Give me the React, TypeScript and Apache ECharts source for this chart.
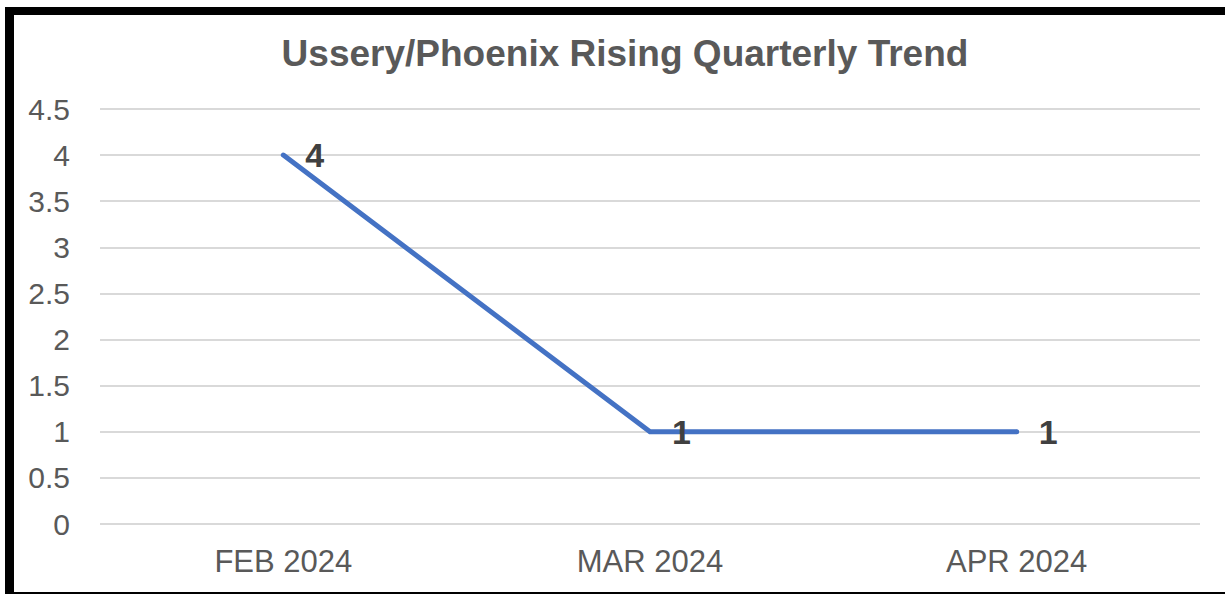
import React, { useEffect, useRef } from "react";
import * as echarts from "echarts";

const titleText = "Ussery/Phoenix Rising Quarterly Trend";
const categories = ["FEB 2024", "MAR 2024", "APR 2024"];
const values = [4, 1, 1];
const yMin = 0;
const yMax = 4.5;
const yInterval = 0.5;

export default function App() {
  const ref = useRef<HTMLDivElement>(null);
  useEffect(() => {
    const chart = echarts.init(ref.current!, undefined, { renderer: "svg" });
    const font = "Liberation Sans, Arial, sans-serif";
    chart.setOption({
      animation: false,
      backgroundColor: "#ffffff",
      textStyle: { fontFamily: font },
      title: {
        text: titleText,
        left: 620,
        top: 30,
        textAlign: "center",
        textStyle: { fontSize: 37, fontWeight: "bold", color: "#595959", fontFamily: font },
      },
      grid: { left: 100, right: 25, top: 109, bottom: 70, containLabel: false },
      xAxis: {
        type: "category",
        data: categories,
        boundaryGap: true,
        axisLine: { show: false },
        axisTick: { show: false },
        axisLabel: { fontSize: 31, color: "#595959", margin: 22, fontFamily: font },
      },
      yAxis: {
        type: "value",
        min: yMin,
        max: yMax,
        interval: yInterval,
        axisLine: { show: false },
        axisTick: { show: false },
        splitLine: { lineStyle: { color: "#d9d9d9", width: 2 } },
        axisLabel: { fontSize: 30, color: "#595959", margin: 30, fontFamily: font },
      },
      series: [
        {
          type: "line",
          data: values,
          symbol: "circle",
          symbolSize: 4,
          showSymbol: true,
          itemStyle: { color: "#4472C4", borderWidth: 0 },
          lineStyle: { color: "#4472C4", width: 5, cap: "round", join: "round" },
          label: {
            show: true,
            position: "right",
            distance: 20,
            fontSize: 34,
            fontWeight: "bold",
            color: "#404040",
            fontFamily: font,
          },
        },
      ],
      graphic: [
        { type: "rect", shape: { x: 5, y: 7, width: 1220, height: 8 }, style: { fill: "#000" } },
        { type: "rect", shape: { x: 5, y: 7, width: 9, height: 587 }, style: { fill: "#000" } },
        { type: "rect", shape: { x: 5, y: 592, width: 1220, height: 2 }, style: { fill: "#000" } },
      ],
    });
    return () => chart.dispose();
  }, []);
  return (
    <div
      ref={ref}
      style={{ position: "fixed", left: 0, top: 0, width: 1225, height: 594 }}
    />
  );
}
